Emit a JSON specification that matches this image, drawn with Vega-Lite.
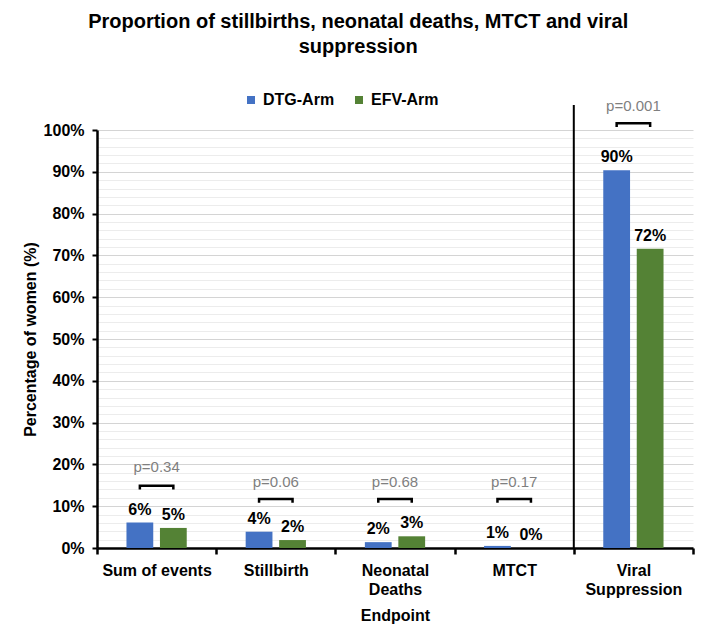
{
  "$schema": "https://vega.github.io/schema/vega-lite/v6.json",
  "width": 596,
  "height": 418,
  "autosize": {"type": "none"},
  "padding": {"left": 97, "top": 130, "right": 16, "bottom": 90},
  "background": "white",
  "title": {
    "text": ["Proportion of stillbirths, neonatal deaths, MTCT and viral", "suppression"],
    "font": "Liberation Sans",
    "fontSize": 20,
    "fontWeight": "bold",
    "color": "#000000",
    "anchor": "middle",
    "frame": "bounds",
    "lineHeight": 25,
    "offset": 35
  },
  "config": {
    "view": {"stroke": null},
    "axis": {
      "labelFont": "Liberation Sans",
      "labelFontWeight": "bold",
      "labelFontSize": 16,
      "labelColor": "#000000",
      "titleFont": "Liberation Sans",
      "titleFontWeight": "bold",
      "titleFontSize": 16,
      "titleColor": "#000000",
      "domainColor": "#000000",
      "domainWidth": 2.5,
      "tickWidth": 2,
      "tickSize": 5
    }
  },
  "datasets": {
    "bars": [
      {"category": "Sum of events", "arm": "DTG-Arm", "value": 0.061, "label": "6%"},
      {"category": "Sum of events", "arm": "EFV-Arm", "value": 0.048, "label": "5%"},
      {"category": "Stillbirth", "arm": "DTG-Arm", "value": 0.039, "label": "4%"},
      {"category": "Stillbirth", "arm": "EFV-Arm", "value": 0.019, "label": "2%"},
      {"category": "Neonatal Deaths", "arm": "DTG-Arm", "value": 0.014, "label": "2%"},
      {"category": "Neonatal Deaths", "arm": "EFV-Arm", "value": 0.028, "label": "3%"},
      {"category": "MTCT", "arm": "DTG-Arm", "value": 0.005, "label": "1%"},
      {"category": "MTCT", "arm": "EFV-Arm", "value": 0.0, "label": "0%"},
      {"category": "Viral Suppression", "arm": "DTG-Arm", "value": 0.904, "label": "90%"},
      {"category": "Viral Suppression", "arm": "EFV-Arm", "value": 0.716, "label": "72%"}
    ],
    "pvals": [
      {"category": "Sum of events", "p": "p=0.34", "ty": 0.194},
      {"category": "Stillbirth", "p": "p=0.06", "ty": 0.158},
      {"category": "Neonatal Deaths", "p": "p=0.68", "ty": 0.158},
      {"category": "MTCT", "p": "p=0.17", "ty": 0.158},
      {"category": "Viral Suppression", "p": "p=0.001", "ty": 1.057}
    ],
    "brackets": [
      {"category": "Sum of events", "arm": "DTG-Arm", "by": 0.140, "ord": 1},
      {"category": "Sum of events", "arm": "DTG-Arm", "by": 0.149, "ord": 2},
      {"category": "Sum of events", "arm": "EFV-Arm", "by": 0.149, "ord": 3},
      {"category": "Sum of events", "arm": "EFV-Arm", "by": 0.140, "ord": 4},
      {"category": "Stillbirth", "arm": "DTG-Arm", "by": 0.108, "ord": 1},
      {"category": "Stillbirth", "arm": "DTG-Arm", "by": 0.117, "ord": 2},
      {"category": "Stillbirth", "arm": "EFV-Arm", "by": 0.117, "ord": 3},
      {"category": "Stillbirth", "arm": "EFV-Arm", "by": 0.108, "ord": 4},
      {"category": "Neonatal Deaths", "arm": "DTG-Arm", "by": 0.108, "ord": 1},
      {"category": "Neonatal Deaths", "arm": "DTG-Arm", "by": 0.117, "ord": 2},
      {"category": "Neonatal Deaths", "arm": "EFV-Arm", "by": 0.117, "ord": 3},
      {"category": "Neonatal Deaths", "arm": "EFV-Arm", "by": 0.108, "ord": 4},
      {"category": "MTCT", "arm": "DTG-Arm", "by": 0.108, "ord": 1},
      {"category": "MTCT", "arm": "DTG-Arm", "by": 0.117, "ord": 2},
      {"category": "MTCT", "arm": "EFV-Arm", "by": 0.117, "ord": 3},
      {"category": "MTCT", "arm": "EFV-Arm", "by": 0.108, "ord": 4},
      {"category": "Viral Suppression", "arm": "DTG-Arm", "by": 1.007, "ord": 1},
      {"category": "Viral Suppression", "arm": "DTG-Arm", "by": 1.016, "ord": 2},
      {"category": "Viral Suppression", "arm": "EFV-Arm", "by": 1.016, "ord": 3},
      {"category": "Viral Suppression", "arm": "EFV-Arm", "by": 1.007, "ord": 4}
    ],
    "separator": [
      {"category": "Viral Suppression", "y0": 0, "y1": 1.06}
    ]
  },
  "layer": [
    {
      "data": {"name": "bars"},
      "mark": {"type": "bar", "clip": false},
      "encoding": {
        "x": {
          "field": "category",
          "type": "nominal",
          "scale": {"domain": ["Sum of events", "Stillbirth", "Neonatal Deaths", "MTCT", "Viral Suppression"], "paddingInner": 0, "paddingOuter": 0},
          "axis": {
            "title": "Endpoint",
            "labelAngle": 0,
            "labelPadding": 8,
            "labelLineHeight": 19,
            "labelBaseline": "top",
            "labelExpr": "datum.label == 'Neonatal Deaths' ? ['Neonatal', 'Deaths'] : datum.label == 'Viral Suppression' ? ['Viral', 'Suppression'] : datum.label",
            "tickBand": "extent",
            "tickColor": "#000000",
            "tickSize": 6,
            "tickWidth": 2.5,
            "titlePadding": 10,
            "grid": false
          }
        },
        "xOffset": {
          "field": "arm",
          "type": "nominal",
          "scale": {"paddingInner": 0.2, "paddingOuter": 0.88}
        },
        "y": {
          "field": "value",
          "type": "quantitative",
          "scale": {"domain": [0, 1], "nice": false},
          "axis": {
            "title": "Percentage of women (%)",
            "titlePadding": 5,
            "values": [0, 0.02, 0.04, 0.06, 0.08, 0.1, 0.12, 0.14, 0.16, 0.18, 0.2, 0.22, 0.24, 0.26, 0.28, 0.3, 0.32, 0.34, 0.36, 0.38, 0.4, 0.42, 0.44, 0.46, 0.48, 0.5, 0.52, 0.54, 0.56, 0.58, 0.6, 0.62, 0.64, 0.66, 0.68, 0.7, 0.72, 0.74, 0.76, 0.78, 0.8, 0.82, 0.84, 0.86, 0.88, 0.9, 0.92, 0.94, 0.96, 0.98, 1],
            "tickCount": 60,
            "labelOverlap": false,
            "format": ".0%",
            "labelExpr": "round(datum.value * 100) % 10 == 0 ? datum.label : ''",
            "labelPadding": 8,
            "grid": true,
            "gridColor": {"condition": {"test": "round(datum.value * 100) % 10 == 0", "value": "#d4d4d4"}, "value": "#ececec"},
            "gridWidth": 1,
            "tickColor": {"condition": {"test": "round(datum.value * 100) % 10 == 0", "value": "#000000"}, "value": "transparent"}
          }
        },
        "color": {
          "field": "arm",
          "type": "nominal",
          "scale": {"domain": ["DTG-Arm", "EFV-Arm"], "range": ["#4472c4", "#548235"]},
          "legend": {
            "orient": "none",
            "legendX": 146,
            "legendY": -38,
            "direction": "horizontal",
            "title": null,
            "symbolType": "square",
            "symbolSize": 64,
            "symbolStrokeWidth": 0,
            "labelFont": "Liberation Sans",
            "labelFontSize": 16,
            "labelFontWeight": "bold",
            "labelColor": "#000000",
            "columnPadding": 16
          }
        }
      }
    },
    {
      "data": {"name": "bars"},
      "mark": {"type": "text", "font": "Liberation Sans", "fontWeight": "bold", "fontSize": 16, "baseline": "middle", "dy": -13, "color": "#000000", "clip": false},
      "encoding": {
        "x": {"field": "category", "type": "nominal"},
        "xOffset": {"field": "arm", "type": "nominal"},
        "y": {"field": "value", "type": "quantitative"},
        "text": {"field": "label"}
      }
    },
    {
      "data": {"name": "brackets"},
      "mark": {"type": "line", "color": "#000000", "strokeWidth": 2.5, "clip": false},
      "encoding": {
        "x": {"field": "category", "type": "nominal"},
        "xOffset": {"field": "arm", "type": "nominal"},
        "y": {"field": "by", "type": "quantitative"},
        "detail": {"field": "category"},
        "order": {"field": "ord", "type": "quantitative"}
      }
    },
    {
      "data": {"name": "pvals"},
      "mark": {"type": "text", "font": "Liberation Sans", "fontSize": 15, "baseline": "middle", "color": "#7f7f7f", "clip": false},
      "encoding": {
        "x": {"field": "category", "type": "nominal"},
        "y": {"field": "ty", "type": "quantitative"},
        "text": {"field": "p"}
      }
    },
    {
      "data": {"name": "separator"},
      "mark": {"type": "rule", "color": "#000000", "strokeWidth": 2, "clip": false},
      "encoding": {
        "x": {"field": "category", "type": "nominal", "bandPosition": 0},
        "y": {"field": "y0", "type": "quantitative"},
        "y2": {"field": "y1"}
      }
    }
  ]
}
